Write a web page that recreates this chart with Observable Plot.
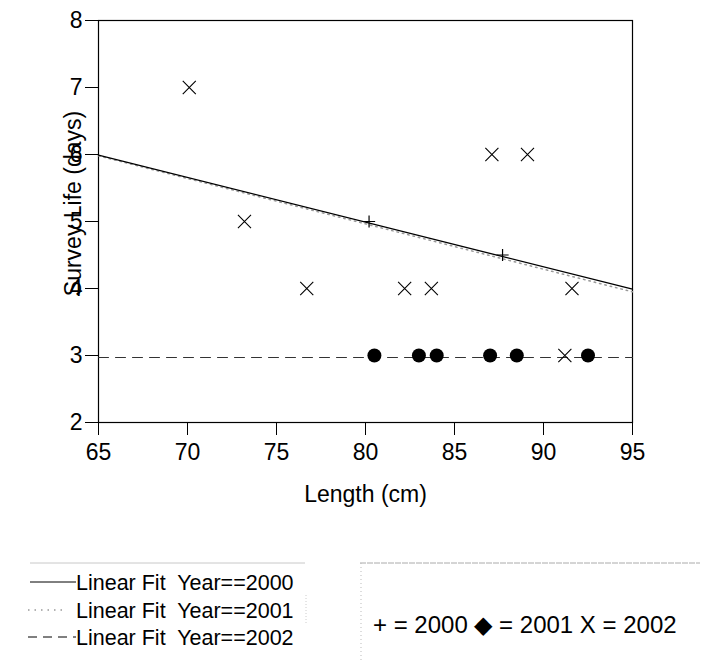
<!DOCTYPE html>
<html>
<head>
<meta charset="utf-8">
<script src="https://cdn.jsdelivr.net/npm/d3@7"></script>
<script src="https://cdn.jsdelivr.net/npm/@observablehq/plot@0.6"></script>
<style>
  body { margin: 0; background: #fff; font-family: "Liberation Sans", Arial, sans-serif; }
  #wrap { position: relative; width: 707px; height: 660px; overflow: hidden; }
  #legend { position: absolute; left: 0; top: 520px; }
  #legend text { white-space: pre; }
</style>
</head>
<body>
<div id="wrap">
  <div id="chart"></div>
  <svg id="legend" width="707" height="140"></svg>
</div>
<script>
// Survey life against fish length, by tagging year
const length2000 = [80.2, 87.7];
const life2000 = [5, 4.5];

const length2001 = [80.5, 83.0, 84.0, 87.0, 88.5, 92.5];
const life2001 = [3, 3, 3, 3, 3, 3];

const length2002 = [70.1, 73.2, 76.7, 82.2, 83.7, 87.1, 89.1, 91.2, 91.6];
const life2002 = [7, 5, 4, 4, 4, 6, 6, 3, 4];

// Linear fits evaluated at the ends of the length range
const fitLength = [65, 95];
const fit2000 = [5.99, 3.99];
const fit2001 = [5.98, 3.95];
const fit2002 = [2.97, 2.97];

const xTicks = [65, 70, 75, 80, 85, 90, 95];
const yTicks = [2, 3, 4, 5, 6, 7, 8];
const xLabel = "Length (cm)";
const yLabel = "Survey Life (days)";

const fitLabels = ["Linear Fit  Year==2000", "Linear Fit  Year==2001", "Linear Fit  Year==2002"];
const symbolKey = "+ = 2000 \u25C6 = 2001 X = 2002";

const pts = (xs, ys) => xs.map((x, i) => ({x, y: ys[i]}));

const chart = Plot.plot({
  width: 707,
  height: 520,
  marginLeft: 98,
  marginRight: 75,
  marginTop: 20,
  marginBottom: 98,
  x: {domain: [65, 95]},
  y: {domain: [2, 8]},
  style: {fontFamily: "'Liberation Sans', Arial, sans-serif", fontSize: "23px", color: "#000", background: "#fff"},
  marks: [
    Plot.frame({stroke: "#000", strokeWidth: 1.2}),
    Plot.axisX({ticks: xTicks, tickSize: 13, tickPadding: 8, label: null, fontSize: 23, tickFormat: d => String(d)}),
    Plot.axisY({ticks: yTicks, tickSize: 13, tickPadding: 3, label: null, fontSize: 23, tickFormat: d => String(d)}),
    Plot.line(pts(fitLength, fit2002), {x: "x", y: "y", stroke: "#333", strokeWidth: 1, strokeDasharray: "10,7"}),
    Plot.line(pts(fitLength, fit2001), {x: "x", y: "y", stroke: "#999", strokeWidth: 1.5, strokeDasharray: "1.5,4"}),
    Plot.line(pts(fitLength, fit2000), {x: "x", y: "y", stroke: "#000", strokeWidth: 1.3}),
    Plot.dot(pts(length2001, life2001), {x: "x", y: "y", symbol: "circle", r: 7, fill: "#000", stroke: "none"}),
    Plot.dot(pts(length2002, life2002), {x: "x", y: "y", symbol: "times", r: 6, stroke: "#000", strokeWidth: 1.1}),
    Plot.dot(pts(length2000, life2000), {x: "x", y: "y", symbol: "plus", r: 4, stroke: "#000", strokeWidth: 1.2}),
    Plot.text([yLabel], {frameAnchor: "left", text: d => d, rotate: -90, textAnchor: "middle", lineAnchor: "middle", dx: -25, dy: -18, fontSize: 23}),
    Plot.text([xLabel], {frameAnchor: "bottom", text: d => d, lineAnchor: "middle", dy: 72, fontSize: 23})
  ]
});
document.getElementById("chart").append(chart);

// Legend boxes below the plot
const legend = d3.select("#legend");
const top0 = 520;

legend.append("line").attr("x1", 30).attr("x2", 305).attr("y1", 563 - top0).attr("y2", 563 - top0)
  .attr("stroke", "#c8c8c8");
legend.append("line").attr("x1", 306).attr("x2", 306).attr("y1", 595 - top0).attr("y2", 625 - top0)
  .attr("stroke", "#ccc").attr("stroke-dasharray", "1,2");
legend.append("line").attr("x1", 360).attr("x2", 700).attr("y1", 563 - top0).attr("y2", 563 - top0)
  .attr("stroke", "#aaa").attr("stroke-dasharray", "6,1");
legend.append("line").attr("x1", 361).attr("x2", 361).attr("y1", 563 - top0).attr("y2", 660 - top0)
  .attr("stroke", "#bbb").attr("stroke-dasharray", "1,3");

const rowY = [582, 610, 637];
const rowStyles = [
  {x1: 30, stroke: "#000", dash: null, width: 1},
  {x1: 28, stroke: "#999", dash: "1.5,5", width: 1.5},
  {x1: 28, stroke: "#000", dash: "9,6", width: 1}
];
fitLabels.forEach((label, i) => {
  const y = rowY[i] - top0;
  const s = rowStyles[i];
  const ln = legend.append("line").attr("x1", s.x1).attr("x2", i === 1 ? 62 : 76)
    .attr("y1", y).attr("y2", y).attr("stroke", s.stroke).attr("stroke-width", s.width);
  if (s.dash) ln.attr("stroke-dasharray", s.dash);
  legend.append("text").attr("x", 76).attr("y", y).attr("dy", "0.35em")
    .attr("font-size", 21.5).attr("fill", "#000").text(label);
});

legend.append("text").attr("x", 373).attr("y", 625 - top0).attr("dy", "0.35em")
  .attr("font-size", 24).attr("fill", "#000").text(symbolKey);
</script>
</body>
</html>
